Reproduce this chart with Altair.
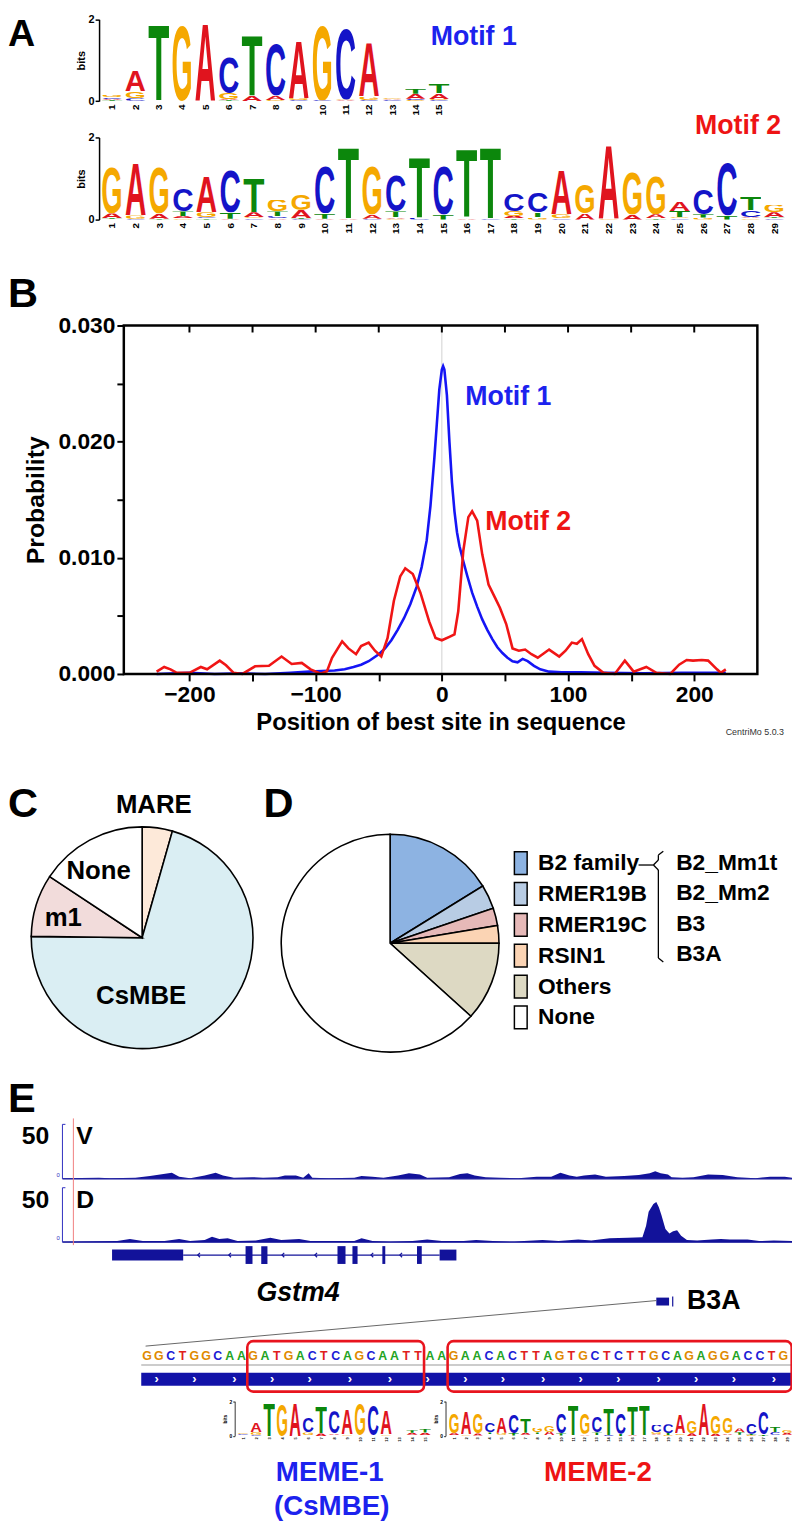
import urllib.parse
import altair as alt
import pandas as pd

# ---------------------------------------------------------------- canvas
W, H = 792, 1521
M = 8  # page margin: reference pixel -> chart pixel


def X(v):
    return v - M


def Y(v):
    return v - M


FONT = "Liberation Sans"
BLUE_TXT = "#1c22ee"
RED_TXT = "#ee1414"
NAVY = "#12129a"

# ---------------------------------------------------------------- data
NUC = ["A", "C", "G", "T"]
LOGO_COLORS = ["#e0141e", "#1414c8", "#f5a800", "#0c870c"]
SEQ_COLORS = ["#23a323", "#1c1cd6", "#e08a00", "#e0201c"]

# sequence logos: per position, letters bottom -> top with height in bits
MOTIF1 = [
    [("T", 0.02), ("A", 0.03), ("C", 0.04), ("G", 0.06)],
    [("T", 0.01), ("C", 0.06), ("G", 0.16), ("A", 0.52)],
    [("T", 1.92)],
    [("G", 1.90)],
    [("A", 1.95)],
    [("T", 0.02), ("A", 0.03), ("G", 0.15), ("C", 0.89)],
    [("A", 0.14), ("T", 1.53)],
    [("G", 0.03), ("A", 0.10), ("C", 1.29)],
    [("C", 0.02), ("G", 0.05), ("A", 1.45)],
    [("C", 0.02), ("G", 1.90)],
    [("A", 0.02), ("G", 0.02), ("C", 1.80)],
    [("C", 0.02), ("G", 0.08), ("A", 1.37)],
    [("C", 0.02), ("A", 0.02), ("G", 0.03)],
    [("G", 0.03), ("C", 0.03), ("A", 0.12), ("T", 0.14)],
    [("C", 0.02), ("G", 0.03), ("A", 0.14), ("T", 0.23)],
]
MOTIF2 = [
    [("C", 0.01), ("T", 0.02), ("A", 0.12), ("G", 1.15)],
    [("C", 0.02), ("G", 0.08), ("A", 1.30)],
    [("T", 0.02), ("A", 0.12), ("G", 1.16)],
    [("G", 0.03), ("A", 0.05), ("T", 0.12), ("C", 0.55)],
    [("T", 0.03), ("C", 0.03), ("G", 0.12), ("A", 0.90)],
    [("A", 0.02), ("T", 0.15), ("C", 1.05)],
    [("C", 0.03), ("G", 0.03), ("A", 0.12), ("T", 0.84)],
    [("A", 0.03), ("C", 0.05), ("T", 0.12), ("G", 0.28)],
    [("C", 0.02), ("T", 0.02), ("A", 0.20), ("G", 0.40)],
    [("A", 0.02), ("T", 0.13), ("C", 1.18)],
    [("A", 0.02), ("T", 1.78)],
    [("C", 0.02), ("A", 0.10), ("G", 1.22)],
    [("G", 0.02), ("A", 0.03), ("T", 0.15), ("C", 0.90)],
    [("C", 0.05), ("T", 1.52)],
    [("T", 0.12), ("C", 1.22)],
    [("A", 0.04), ("T", 1.70)],
    [("C", 0.03), ("T", 1.77)],
    [("T", 0.03), ("A", 0.06), ("G", 0.12), ("C", 0.42)],
    [("G", 0.05), ("T", 0.12), ("C", 0.50)],
    [("C", 0.03), ("G", 0.10), ("A", 1.11)],
    [("A", 0.15), ("G", 0.71)],
    [("G", 0.02), ("A", 1.86)],
    [("A", 0.12), ("G", 1.06)],
    [("T", 0.03), ("A", 0.10), ("G", 0.94)],
    [("C", 0.03), ("G", 0.03), ("T", 0.15), ("A", 0.22)],
    [("G", 0.05), ("T", 0.08), ("C", 0.62)],
    [("T", 0.10), ("C", 1.32)],
    [("G", 0.03), ("A", 0.03), ("C", 0.17), ("T", 0.33)],
    [("C", 0.03), ("T", 0.03), ("A", 0.12), ("G", 0.18)],
]

# CentriMo site distributions
M1_POS = [-226, -200, -180, -160, -140, -120, -105, -95, -85, -77, -70, -64, -58, -54, -50,
          -45, -40, -35, -30, -25, -20, -16, -12, -9, -6, -4, -2, 0, 1, 2, 4, 6, 8, 10, 12,
          14, 17, 20, 24, 28, 32, 36, 40, 44, 48, 52, 56, 60, 64, 68, 73, 78, 85, 95, 110,
          130, 160, 190, 225]
M1_VAL = [0.0, 0.0001, 0.0, 0.00005, 0.0, 0.0001, 0.0002, 0.00025, 0.0003, 0.0004, 0.0006,
          0.0008, 0.0011, 0.0014, 0.0017, 0.0022, 0.0029, 0.0038, 0.0048, 0.0060, 0.0075,
          0.0092, 0.0115, 0.0145, 0.0185, 0.0215, 0.0245, 0.0262, 0.0265, 0.0262, 0.0240,
          0.0200, 0.0165, 0.0140, 0.0122, 0.0110, 0.0097, 0.0085, 0.0070, 0.0058, 0.0047,
          0.0038, 0.0030, 0.0023, 0.0018, 0.0014, 0.0011, 0.0010, 0.0013, 0.0011, 0.0007,
          0.0004, 0.0002, 0.00015, 0.00015, 0.0001, 0.00005, 0.0001, 0.0001]
M2_POS = [-226, -220, -215, -210, -200, -191, -186, -176, -171, -165, -158, -148, -137, -127,
          -119, -111, -104, -96, -91, -87, -79, -74, -68, -64, -58, -53, -48, -43, -38, -33,
          -29, -23, -17, -10, -5, 0, 6, 10, 13, 17, 21, 24, 28, 32, 37, 42, 46, 51, 56, 61,
          66, 71, 76, 85, 93, 98, 103, 107, 111, 116, 121, 128, 137, 145, 152, 162, 170,
          181, 188, 194, 199, 206, 211, 218, 221, 225]
M2_VAL = [0.0002, 0.0006, 0.0004, 0.0001, 0.0001, 0.0006, 0.0004, 0.00115, 0.00075, 0.0001,
          0.0, 0.00066, 0.0007, 0.0015, 0.00086, 0.00095, 0.0004, 0.00003, 0.00023, 0.0014,
          0.0028, 0.0022, 0.0017, 0.0024, 0.0027, 0.0020, 0.0015, 0.0031, 0.0063, 0.0084,
          0.0091, 0.0086, 0.0070, 0.0045, 0.0031, 0.0029, 0.0032, 0.0034, 0.0054, 0.0106,
          0.0135, 0.0140, 0.0132, 0.0103, 0.0077, 0.0066, 0.0057, 0.0043, 0.0022, 0.0020,
          0.0021, 0.0017, 0.0014, 0.0021, 0.0015, 0.0020, 0.0027, 0.0026, 0.0030, 0.0017,
          0.0007, 0.0001, 0.0, 0.00115, 0.0002, 0.0006, 0.0001, 0.0, 0.0008, 0.0012,
          0.00115, 0.0012, 0.00115, 0.0004, 0.0001, 0.0004]
B_XTICKS = [-200, -150, -100, -50, 0, 50, 100, 150, 200]
B_YTICKS = [0.0, 0.005, 0.010, 0.015, 0.020, 0.025, 0.030]

# pies
PIE_C_CATS = ["MARE", "CsMBE", "m1", "None"]
PIE_C_VALS = [4.4, 70.8, 9.1, 15.7]
PIE_C_COLORS = ["#fde9d9", "#daeef3", "#f2dcdb", "#ffffff"]
PIE_D_CATS = ["B2 family", "RMER19B", "RMER19C", "RSIN1", "Others", "None"]
PIE_D_VALS = [16.2, 3.6, 2.6, 2.6, 11.7, 63.3]
PIE_D_COLORS = ["#8db3e2", "#b8cce4", "#e6b9b8", "#fbd4b4", "#ddd9c3", "#ffffff"]
B2_MEMBERS = ["B2_Mm1t", "B2_Mm2", "B3", "B3A"]

# genome browser tracks (kb along the window)
TRACK_V_KB = [0.0, 1.0, 1.3, 2.0, 2.4, 3.0, 3.2, 3.5, 3.9, 4.2, 4.4, 4.7, 5.2, 5.5, 5.9, 6.1,
              6.4, 6.6, 6.75, 6.85, 7.3, 8.0, 8.2, 8.5, 8.8, 9.2, 9.5, 9.8, 10.0, 10.6, 10.9,
              11.1, 11.3, 11.6, 12.0, 12.5, 13.0, 13.4, 13.65, 13.9, 14.1, 14.3, 14.6, 14.9,
              15.4, 15.8, 16.1, 16.25, 16.4, 16.6, 16.7, 17.0, 17.3, 17.7, 18.1, 18.5, 19.0,
              19.4, 19.8, 20.0]
TRACK_V_VAL = [0.5, 1, 0.5, 1, 2.5, 5.5, 2, 0.5, 3, 5.5, 3, 1, 1.5, 1, 1.5, 3, 3, 1, 5, 1,
               0.5, 1, 2.5, 2, 1, 3, 5, 4, 1, 1.5, 4.5, 5, 3, 1.5, 1, 0.5, 2, 2, 5.5, 3, 2,
               3, 4, 2, 2.5, 3.5, 5, 7, 5, 4, 1.5, 1, 1.5, 4, 3.5, 1.5, 0.5, 2, 2, 1]
TRACK_D_KB = [0.0, 1.5, 1.85, 2.2, 2.8, 3.2, 3.5, 3.9, 4.1, 4.3, 4.53, 4.8, 5.3, 5.7, 6.0,
              6.49, 6.8, 7.5, 8.0, 8.2, 8.5, 9.0, 9.6, 10.0, 10.4, 11.0, 11.34, 11.8, 12.4,
              13.16, 13.6, 14.14, 14.5, 15.0, 15.5, 15.9, 16.0, 16.07, 16.2, 16.28, 16.35,
              16.42, 16.53, 16.64, 16.74, 16.85, 16.96, 17.12, 17.4, 17.8, 18.05, 18.3,
              18.78, 19.1, 19.5, 20.0]
TRACK_D_VAL = [0.5, 1, 3, 1, 1, 3, 1, 2, 5, 3, 3.5, 1, 1.5, 4, 2, 3, 1, 1, 1, 3.5, 1, 0.5, 1,
               2.5, 1, 1, 2, 1, 0.5, 2, 1, 2.5, 1.5, 3.5, 4, 4.5, 15, 28, 35, 37, 32, 25, 12,
               8, 10, 11, 6, 2, 1.5, 2.5, 3, 2.5, 2.5, 1, 1.5, 1]
GENE_UTR_START = [1.36, 10.34]
GENE_UTR_END = [3.31, 10.80]
GENE_EXON_START = [5.02, 5.45, 7.54, 7.95, 8.77, 9.72]
GENE_EXON_END = [5.21, 5.62, 7.76, 8.09, 8.85, 9.85]
GENE_INTRON = [3.31, 10.34]
GENE_ARROWS = [3.74, 4.59, 6.05, 6.95, 8.49, 9.28]
B3A_SPAN = [16.28, 16.63]
VIEW_MARK_KB = 0.3

SEQUENCE = "GGCTGGCAAGATGACTCAGCAATTAAGAACACTTAGTGCTCTTGCAGAGGACCTG"
CHEVRONS = [0.8, 4.0, 7.4, 10.6, 13.8, 17.2, 20.6, 23.8, 27.0, 30.2, 33.6, 36.8, 40.0,
            43.4, 46.6, 49.8, 53.2]
SITE1 = [9, 23]
SITE2 = [26, 54]


# ---------------------------------------------------------------- helpers
def one():
    return pd.DataFrame({"t": [""]})


def txt(text, x, y, size, color="black", weight="bold", align="left",
        baseline="middle", style="normal"):
    return alt.Chart(pd.DataFrame({"t": [text]})).mark_text(
        align=align, baseline=baseline, fontSize=size, fontWeight=weight,
        fontStyle=style, color=color, font=FONT,
    ).encode(text="t:N", x=alt.value(X(x)), y=alt.value(Y(y)))


def seg(x1, y1, x2, y2, color="black", width=1.5):
    return alt.Chart(one()).mark_rule(color=color, strokeWidth=width).encode(
        x=alt.value(X(x1)), y=alt.value(Y(y1)), x2=alt.value(X(x2)), y2=alt.value(Y(y2)))


def glyph_url(ch, color):
    svg = ("<svg xmlns='http://www.w3.org/2000/svg' width='100' height='100' "
           "viewBox='0 0 100 100' preserveAspectRatio='none'>"
           f"<text x='1' y='99' font-family='Liberation Sans, Arial, sans-serif' "
           f"font-weight='bold' font-size='137' textLength='98' "
           f"lengthAdjust='spacingAndGlyphs' fill='{color}'>{ch}</text></svg>")
    return "data:image/svg+xml;charset=utf-8," + urllib.parse.quote(svg, safe="")


GLYPHS = pd.DataFrame({"letter": NUC,
                       "url": [glyph_url(c, col) for c, col in zip(NUC, LOGO_COLORS)]})


def logo(stacks, x_left, x_right, y_zero, y_two, axis_x, xfont, yfont, tfont,
         tick, dom_w, xpad, ypad, tpad):
    rows = []
    for i, st in enumerate(stacks, start=1):
        base = 0.0
        for letter, h in st:
            rows.append({"pos": i, "letter": letter, "b0": base, "b1": base + h})
            base += h
    df = pd.DataFrame(rows)
    n = len(stacks)
    xs = alt.Scale(domain=[0.5, n + 0.5], range=[X(x_left), X(x_right)], nice=False, zero=False)
    ys = alt.Scale(domain=[0, 2], range=[Y(y_zero), Y(y_two)], nice=False, zero=False)
    return alt.Chart(df).transform_lookup(
        lookup="letter", from_=alt.LookupData(data=GLYPHS, key="letter", fields=["url"])
    ).transform_calculate(
        lo="datum.pos - 0.46", hi="datum.pos + 0.46"
    ).mark_image(aspect=False).encode(
        x=alt.X("lo:Q", scale=xs, axis=alt.Axis(
            orient="bottom", offset=Y(y_zero) - H, values=list(range(1, n + 1)),
            labelAngle=270, domain=False, ticks=False, labelFontSize=xfont,
            labelFontWeight="bold", labelPadding=xpad, labelOverlap=False,
            labelFlush=False, title=None)),
        x2="hi:Q",
        y=alt.Y("b0:Q", scale=ys, axis=alt.Axis(
            orient="left", offset=-X(axis_x), values=[0, 1, 2], format="d",
            tickSize=tick, tickWidth=dom_w, domainWidth=dom_w, labelFontSize=yfont,
            labelFontWeight="bold", labelPadding=ypad, labelOverlap=False,
            labelFlush=False, title="bits", titleFontSize=tfont, titleFontWeight="bold",
            titlePadding=tpad)),
        y2="b1:Q",
        url="url:N",
    )


layers = []

# ---------------------------------------------------------------- panel A
layers.append(txt("A", 8, 9, 38, baseline="top"))
layers.append(logo(MOTIF1, 101.2, 455.2, 94.3, 11.7, 100, 10, 11, 11, 4, 1.5, 3, 1, 2))
layers.append(logo(MOTIF2, 101.0, 794.0, 214.0, 131.0, 100, 10, 11, 11, 4, 1.5, 3, 1, 2))
layers.append(txt("Motif 1", 435, 30, 27, color=BLUE_TXT))
layers.append(txt("Motif 2", 702, 120, 27, color=RED_TXT))

# ---------------------------------------------------------------- panel B
xB = alt.Scale(domain=[-252, 250], range=[X(125), X(765)], nice=False, zero=False)
yB = alt.Scale(domain=[0, 0.03], range=[Y(673), Y(321)], nice=False, zero=False)
line_df = pd.concat([
    pd.DataFrame({"pos": M1_POS, "val": M1_VAL, "motif": "Motif 1"}),
    pd.DataFrame({"pos": M2_POS, "val": M2_VAL, "motif": "Motif 2"}),
])
layers.append(txt("B", 8, 289, 42))
layers.append(alt.Chart(pd.DataFrame({"p": [0], "a": [0.0], "b": [0.03]})).mark_rule(
    color="#d0d0d0", strokeWidth=1).encode(
    x=alt.X("p:Q", scale=xB, axis=None), y=alt.Y("a:Q", scale=yB, axis=None), y2="b:Q"))
layers.append(alt.Chart(line_df).mark_line(strokeWidth=2.6).encode(
    x=alt.X("pos:Q", scale=xB, axis=alt.Axis(
        orient="bottom", offset=Y(673) - H, values=B_XTICKS,
        labelExpr="datum.value % 100 == 0 ? datum.label : ''", tickSize=7, tickWidth=2,
        domain=False, labelFontSize=23, labelFontWeight="bold", labelPadding=3,
        labelOverlap=False, labelFlush=False,
        title="Position of best site in sequence", titleFontSize=24,
        titleFontWeight="bold", titlePadding=4)),
    y=alt.Y("val:Q", scale=yB, axis=alt.Axis(
        orient="left", offset=-X(125), values=B_YTICKS, format=".3f",
        labelExpr="round(datum.value * 1000) % 10 == 0 ? datum.label : ''",
        tickSize=7, tickWidth=2, domain=False, labelFontSize=23, labelFontWeight="bold",
        labelPadding=2, labelOverlap=False, labelFlush=False, title="Probability",
        titleFontSize=25, titleFontWeight="bold", titlePadding=10)),
    color=alt.Color("motif:N", scale=alt.Scale(domain=["Motif 1", "Motif 2"],
                                              range=["#1515f5", "#f01515"]), legend=None),
    detail="motif:N",
))
layers.append(alt.Chart(pd.DataFrame({"p": B_XTICKS, "a": 0.03, "b": 0.0294})).mark_rule(
    color="black", strokeWidth=2).encode(
    x=alt.X("p:Q", scale=xB, axis=None), y=alt.Y("a:Q", scale=yB, axis=None), y2="b:Q"))
layers.append(alt.Chart(pd.DataFrame({"x0": [-252], "x1": [250], "y0": [0.0], "y1": [0.03]}))
              .mark_rect(fillOpacity=0, stroke="black", strokeWidth=2.5).encode(
    x=alt.X("x0:Q", scale=xB, axis=None), x2="x1:Q",
    y=alt.Y("y0:Q", scale=yB, axis=None), y2="y1:Q"))
layers.append(txt("Motif 1", 470, 393, 27, color=BLUE_TXT))
layers.append(txt("Motif 2", 490, 520, 27, color=RED_TXT))
layers.append(txt("CentriMo 5.0.3", 733, 732, 9, color="#333333", weight="normal"))

# ---------------------------------------------------------------- panel C
layers.append(txt("C", 8, 804, 42))
layers.append(alt.Chart(pd.DataFrame({"cat": PIE_C_CATS, "v": PIE_C_VALS,
                                      "i": range(len(PIE_C_CATS))}))
              .mark_arc(outerRadius=112, stroke="black", strokeWidth=1.6).encode(
    theta=alt.Theta("v:Q", stack=True), order=alt.Order("i:Q"),
    color=alt.Color("cat:N", scale=alt.Scale(domain=PIE_C_CATS, range=PIE_C_COLORS), legend=None),
    x=alt.value(X(143.5)), y=alt.value(Y(939.5))))
layers.append(txt("MARE", 117, 805, 26))
layers.append(txt("None", 67, 872, 26))
layers.append(txt("m1", 45, 920, 26))
layers.append(txt("CsMBE", 97, 998, 26))

# ---------------------------------------------------------------- panel D
layers.append(txt("D", 266, 804, 42))
layers.append(alt.Chart(pd.DataFrame({"cat": PIE_D_CATS, "v": PIE_D_VALS,
                                      "i": range(len(PIE_D_CATS))}))
              .mark_arc(outerRadius=110, stroke="black", strokeWidth=1.6).encode(
    theta=alt.Theta("v:Q", stack=True), order=alt.Order("i:Q"),
    color=alt.Color("cat:N", sort=PIE_D_CATS,
                    scale=alt.Scale(domain=PIE_D_CATS, range=PIE_D_COLORS),
                    legend=alt.Legend(orient="none", legendX=X(513.5), legendY=Y(851.5),
                                      title=None, symbolType="M-0.56,-1H0.56V1H-0.56Z",
                                      symbolSize=529, symbolStrokeColor="black",
                                      symbolStrokeWidth=1.5, symbolOpacity=1,
                                      labelFontSize=23, labelFontWeight="bold",
                                      labelColor="black", labelOffset=5, rowPadding=2.2,
                                      padding=0, labelLimit=300)),
    x=alt.value(X(394)), y=alt.value(Y(945))))
for k, name in enumerate(B2_MEMBERS):
    layers.append(txt(name, 683, 864 + k * 30.6, 23))
layers.append(seg(645, 866, 660, 866, width=1.3))
layers.append(seg(660, 866, 665, 861, width=1.3))
layers.append(seg(660, 866, 665, 871, width=1.3))
layers.append(seg(665, 861, 665, 856, width=1.3))
layers.append(seg(665, 856, 670, 852, width=1.3))
layers.append(seg(665, 871, 665, 960, width=1.3))
layers.append(seg(665, 960, 670, 964, width=1.3))

# ---------------------------------------------------------------- panel E: tracks
xE = alt.Scale(domain=[0, 20], range=[X(63), X(800)], nice=False, zero=False)
layers.append(txt("E", 8, 1103, 42))
for name, kb, val, base, top in [("V", TRACK_V_KB, TRACK_V_VAL, 1183, 1128),
                                  ("D", TRACK_D_KB, TRACK_D_VAL, 1247, 1192)]:
    yT = alt.Scale(domain=[0, 50], range=[Y(base), Y(top)], nice=False, zero=False)
    layers.append(alt.Chart(pd.DataFrame({"kb": kb, "v": val})).mark_area(
        color=NAVY, interpolate="linear").encode(
        x=alt.X("kb:Q", scale=xE, axis=None), y=alt.Y("v:Q", scale=yT, axis=None)))
    layers.append(alt.Chart(pd.DataFrame({"a": [0.0], "b": [20.0], "z": [0.0]})).mark_rule(
        color=NAVY, strokeWidth=1.2).encode(
        x=alt.X("a:Q", scale=xE, axis=None), x2="b:Q", y=alt.Y("z:Q", scale=yT, axis=None)))
    layers.append(alt.Chart(pd.DataFrame({"a": [0.0], "b": [50.0]})).mark_rule(
        color="#3030c0", strokeWidth=1).encode(
        x=alt.value(X(63)), y=alt.Y("a:Q", scale=yT, axis=None), y2="b:Q"))
    layers.append(alt.Chart(pd.DataFrame({"b": [50.0]})).mark_rule(
        color="#3030c0", strokeWidth=1).encode(
        x=alt.value(X(63)), x2=alt.value(X(66)), y=alt.Y("b:Q", scale=yT, axis=None)))
    layers.append(txt("50", 22, top + 12, 25))
    layers.append(txt(name, 77, top + 12, 25))
    layers.append(txt("0", 57, base - 4, 6, color="#3030c0", weight="normal"))

layers.append(alt.Chart(pd.DataFrame({"kb": [VIEW_MARK_KB]})).mark_rule(
    color="#f08080", strokeWidth=1).encode(
    x=alt.X("kb:Q", scale=xE, axis=None), y=alt.value(Y(1122)), y2=alt.value(Y(1250))))

# gene model
layers.append(alt.Chart(pd.DataFrame({"a": [GENE_INTRON[0]], "b": [GENE_INTRON[1]]})).mark_rule(
    color=NAVY, strokeWidth=1.2).encode(
    x=alt.X("a:Q", scale=xE, axis=None), x2="b:Q", y=alt.value(Y(1260))))
layers.append(alt.Chart(pd.DataFrame({"a": GENE_UTR_START, "b": GENE_UTR_END})).mark_rect(
    color=NAVY).encode(x=alt.X("a:Q", scale=xE, axis=None), x2="b:Q",
                       y=alt.value(Y(1254.5)), y2=alt.value(Y(1265.5))))
layers.append(alt.Chart(pd.DataFrame({"a": GENE_EXON_START, "b": GENE_EXON_END})).mark_rect(
    color=NAVY).encode(x=alt.X("a:Q", scale=xE, axis=None), x2="b:Q",
                       y=alt.value(Y(1251)), y2=alt.value(Y(1269))))
layers.append(alt.Chart(pd.DataFrame({"kb": GENE_ARROWS})).mark_point(
    shape="M0.5,-1L-0.5,0L0.5,1", filled=False, color=NAVY, size=20, strokeWidth=1.2,
    opacity=1).encode(x=alt.X("kb:Q", scale=xE, axis=None), y=alt.value(Y(1260))))
layers.append(txt("Gstm4", 259, 1298, 27, style="italic"))

# B3A element and zoom connector
layers.append(alt.Chart(pd.DataFrame({"a": [B3A_SPAN[0]], "b": [B3A_SPAN[1]]})).mark_rect(
    color=NAVY).encode(x=alt.X("a:Q", scale=xE, axis=None), x2="b:Q",
                       y=alt.value(Y(1303)), y2=alt.value(Y(1311))))
layers.append(alt.Chart(pd.DataFrame({"a": [B3A_SPAN[1] + 0.1]})).mark_rule(
    color=NAVY, strokeWidth=1.2).encode(x=alt.X("a:Q", scale=xE, axis=None),
                                        y=alt.value(Y(1302)), y2=alt.value(Y(1312))))
layers.append(txt("B3A", 694, 1307, 27))
layers.append(seg(663, 1306, 147, 1352, color="#666666", width=1))

# ---------------------------------------------------------------- sequence
n_seq = len(SEQUENCE)
xS = alt.Scale(domain=[-0.5, n_seq - 0.5], range=[X(142.6), X(797.3)], nice=False, zero=False)
seq_df = pd.DataFrame({"i": range(n_seq), "nt": list(SEQUENCE)})
layers.append(alt.Chart(seq_df).mark_text(fontSize=12.5, fontWeight="bold", font=FONT).encode(
    x=alt.X("i:Q", scale=xS, axis=None), y=alt.value(Y(1362)), text="nt:N",
    color=alt.Color("nt:N", scale=alt.Scale(domain=NUC, range=SEQ_COLORS), legend=None)))
layers.append(alt.Chart(pd.DataFrame({"a": [-0.5], "b": [n_seq - 0.3]})).mark_rule(
    color="#bbbbbb", strokeWidth=1.5).encode(
    x=alt.X("a:Q", scale=xS, axis=None), x2="b:Q", y=alt.value(Y(1371))))
layers.append(alt.Chart(pd.DataFrame({"a": [-0.5], "b": [n_seq - 0.3]})).mark_rect(
    color="#1212a8").encode(x=alt.X("a:Q", scale=xS, axis=None), x2="b:Q",
                            y=alt.value(Y(1379)), y2=alt.value(Y(1392))))
layers.append(alt.Chart(pd.DataFrame({"i": CHEVRONS})).mark_text(
    text="›", fontSize=13, fontWeight="bold", color="white", font=FONT).encode(
    x=alt.X("i:Q", scale=xS, axis=None), y=alt.value(Y(1385))))
layers.append(alt.Chart(pd.DataFrame({"a": [SITE1[0] - 0.5, SITE2[0] - 0.5],
                                      "b": [SITE1[1] + 0.5, SITE2[1] + 0.7]})).mark_rect(
    fillOpacity=0, stroke="#e8141e", strokeWidth=2.6, cornerRadius=6).encode(
    x=alt.X("a:Q", scale=xS, axis=None), x2="b:Q",
    y=alt.value(Y(1347)), y2=alt.value(Y(1398))))

# small logos under the sites
layers.append(logo(MOTIF1, 239, 436, 1442.7, 1407.7, 237, 4, 5, 5, 2, 0.8, 1, 1, 1))
layers.append(logo(MOTIF2, 452.7, 801, 1442.7, 1407.7, 450, 4, 5, 5, 2, 0.8, 1, 1, 1))
layers.append(txt("MEME-1", 333, 1480, 28, color=BLUE_TXT, align="center"))
layers.append(txt("(CsMBE)", 335, 1515, 28, color=BLUE_TXT, align="center"))
layers.append(txt("MEME-2", 604, 1480, 28, color=RED_TXT, align="center"))

# ---------------------------------------------------------------- assemble
chart = alt.layer(*layers).resolve_scale(
    x="independent", y="independent", color="independent", theta="independent"
).properties(
    width=W, height=H, padding=0, autosize="none"
).configure_view(strokeWidth=0).configure_axis(
    grid=False, labelFont=FONT, titleFont=FONT, labelColor="black", titleColor="black",
    tickColor="black", domainColor="black"
).configure_legend(labelFont=FONT).configure_text(font=FONT)

chart.save("out.html", embed_options={"renderer": "svg", "actions": False})
